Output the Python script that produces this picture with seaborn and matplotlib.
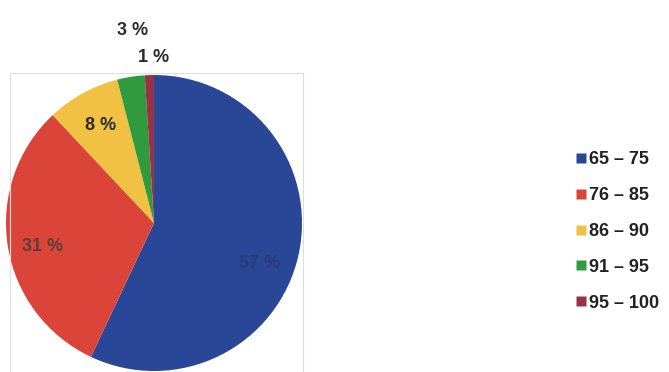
import numpy as np
import matplotlib
matplotlib.use("Agg")
import matplotlib.pyplot as plt
import seaborn as sns
from matplotlib.patches import Rectangle
from matplotlib.lines import Line2D

# data
ranges = ["65 – 75", "76 – 85", "86 – 90", "91 – 95", "95 – 100"]
shares = [57, 31, 8, 3, 1]
colors = ["#2A4797", "#DB4439", "#F1C143", "#2F9A3E", "#963348"]
label_colors = ["#2A3B78", "#5E3C3C", "#2B2B2B", "#2B2B2B", "#2B2B2B"]
label_dist = [0.75, 0.75, 0.75, 1.32, 1.12]
label_dx = [-3, -2, 0, 9, 5]
label_dy = [-16, -6, 0, 0, 0]

sns.set_theme(style="white")
plt.rcParams["font.family"] = ["Liberation Sans", "DejaVu Sans"]

fig = plt.figure(figsize=(6.69, 3.72), dpi=100)
ax = fig.add_axes([0, 0, 1, 1])

cx, cy, r = 154, 149, 148
wedges, texts, autotexts = ax.pie(
    shares, colors=colors, startangle=90, counterclock=False,
    center=(cx, cy), radius=r, autopct="%d %%", pctdistance=0.75,
    wedgeprops=dict(linewidth=0), frame=True)

for w, t, d, dx, dy, c in zip(wedges, autotexts, label_dist, label_dx, label_dy, label_colors):
    ang = np.deg2rad((w.theta1 + w.theta2) / 2)
    t.set_position((cx + r * d * np.cos(ang) + dx, cy + r * d * np.sin(ang) + dy))
    t.set_fontsize(13)
    t.set_fontweight("bold")
    t.set_color(c)

# faint frame round the plot area
ax.add_patch(Rectangle((10, -5), 293, 304, fill=False, edgecolor="#DDDDDD", linewidth=0.8))

ax.set_xlim(0, 669)
ax.set_ylim(0, 372)
ax.set_aspect("equal")
ax.axis("off")

handles = [Line2D([], [], marker="s", linestyle="none", markersize=7,
                  markerfacecolor=c, markeredgecolor="none") for c in colors]
leg = fig.legend(handles, ranges, loc="center left",
                 bbox_to_anchor=(560 / 669, 140.5 / 372), frameon=False,
                 handlelength=0.5, handletextpad=0.2, labelspacing=1.04,
                 prop=dict(size=13, weight="bold"))
for t in leg.get_texts():
    t.set_color("#222222")

fig.savefig("out.png", dpi=100)
